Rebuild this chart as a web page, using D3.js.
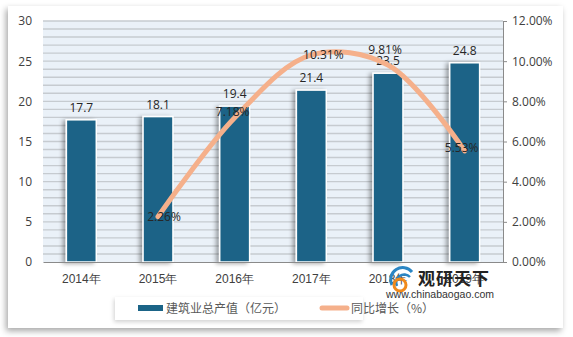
<!DOCTYPE html>
<html><head><meta charset="utf-8">
<script src="https://cdn.jsdelivr.net/npm/d3@7"></script>
<style>
html,body{margin:0;padding:0;background:#fff;}
svg{display:block;font-family:"Noto Sans CJK SC","DejaVu Sans",sans-serif;}
</style></head>
<body>
<svg id="c" width="573" height="337"></svg>
<script>
const categories = ["2014年","2015年","2016年","2017年","2018年","2019年"];
const outputValues = [17.7, 18.1, 19.4, 21.4, 23.5, 24.8];
const growthYears = ["2015年","2016年","2017年","2018年","2019年"];
const growthValues = [2.26, 7.18, 10.31, 9.81, 5.53];
const leftTicks = [0,5,10,15,20,25,30];
const rightTicks = [0,2,4,6,8,10,12];
const seriesNames = ["建筑业总产值（亿元）","同比增长（%）"];

const svg = d3.select("#c");
const defs = svg.append("defs");
const card = defs.append("filter").attr("id","cardShadow").attr("x","-5%").attr("y","-5%").attr("width","110%").attr("height","115%");
card.append("feDropShadow").attr("dx",-2).attr("dy",3).attr("stdDeviation",3).attr("flood-color","#000").attr("flood-opacity",0.35);
const bs = defs.append("filter").attr("id","barShadow").attr("x","-40%").attr("y","-10%").attr("width","160%").attr("height","120%");
bs.append("feDropShadow").attr("dx",-3).attr("dy",1).attr("stdDeviation",2).attr("flood-color","#000").attr("flood-opacity",0.35);
const ls = defs.append("filter").attr("id","legShadow").attr("x","-5%").attr("y","-20%").attr("width","110%").attr("height","150%");
ls.append("feDropShadow").attr("dx",-1).attr("dy",2).attr("stdDeviation",2).attr("flood-color","#000").attr("flood-opacity",0.18);

svg.append("rect").attr("x",8).attr("y",6).attr("width",555).attr("height",322).attr("fill","#fff").attr("filter","url(#cardShadow)");

const m = {l:43, r:503, t:21, b:262};
const x = d3.scaleBand().domain(categories).range([m.l,m.r]).paddingInner(0.61).paddingOuter(0.305);
const xc = d => x(d) + x.bandwidth()/2;
const yL = d3.scaleLinear().domain([0,30]).range([m.b,m.t]);
const yR = d3.scaleLinear().domain([0,12]).range([m.b,m.t]);

// plot background + gridlines
svg.append("rect").attr("x",m.l).attr("y",m.t).attr("width",m.r-m.l).attr("height",m.b-m.t).attr("fill","#eaf1f8");
svg.append("g").selectAll("line").data(d3.range(1,31)).join("line")
  .attr("x1",m.l).attr("x2",m.r).attr("y1",d=>yL(d)).attr("y2",d=>yL(d))
  .attr("stroke","#c6cbd0").attr("stroke-width",1.4);

// left axis
const gL = svg.append("g").attr("transform",`translate(${m.l},0)`)
  .call(d3.axisLeft(yL).tickValues(leftTicks).tickSize(0).tickPadding(11));
gL.select(".domain").remove();
gL.selectAll("text").attr("font-size",12).attr("fill","#404040").attr("font-family","'Open Sans','DejaVu Sans',sans-serif");

// right axis
const gR = svg.append("g").attr("transform",`translate(${m.r},0)`)
  .call(d3.axisRight(yR).tickValues(rightTicks).tickSize(4).tickPadding(5).tickFormat(d=>d.toFixed(2)+"%"));
gR.select(".domain").attr("stroke","#8a8a8a");
gR.selectAll("line").attr("stroke","#8a8a8a");
gR.selectAll("text").attr("font-size",12).attr("fill","#404040").attr("font-family","'Open Sans','DejaVu Sans',sans-serif");

// bars
svg.append("g").selectAll("rect").data(outputValues).join("rect")
  .attr("x",(d,i)=>x(categories[i])).attr("width",x.bandwidth())
  .attr("y",d=>yL(d)).attr("height",d=>m.b-yL(d))
  .attr("fill","#1b6487").attr("stroke","#fff").attr("stroke-width",1.5)
  .attr("filter","url(#barShadow)");

// bottom axis
const gB = svg.append("g").attr("transform",`translate(0,${m.b})`)
  .call(d3.axisBottom(x).tickSize(0).tickPadding(12));
gB.select(".domain").attr("stroke","#8a8a8a").attr("stroke-width",1.2);
gB.selectAll("text").attr("font-size",12).attr("fill","#404040");

// bar labels
svg.append("g").selectAll("text").data(outputValues).join("text")
  .attr("x",(d,i)=>xc(categories[i])).attr("y",d=>yL(d)-8)
  .attr("text-anchor","middle").attr("font-size",12).attr("fill","#262626")
  .attr("font-family","'Open Sans','DejaVu Sans',sans-serif")
  .text(d=>d);

// line
const line = d3.line().x((d,i)=>xc(growthYears[i])).y(d=>yR(d)).curve(d3.curveCatmullRom.alpha(0.5));
svg.append("path").datum(growthValues).attr("d",line)
  .attr("fill","none").attr("stroke","#f5b08b").attr("stroke-width",5).attr("stroke-linecap","round");

// line labels
const lblDx = [6,-2,12,-3,-3];
const lblDy = [0,-6,0,-15,-3];
svg.append("g").selectAll("text").data(growthValues).join("text")
  .attr("x",(d,i)=>xc(growthYears[i])+lblDx[i]).attr("y",(d,i)=>yR(d)+lblDy[i]+4.5)
  .attr("text-anchor","middle").attr("font-size",12).attr("fill","#262626")
  .attr("font-family","'Open Sans','DejaVu Sans',sans-serif")
  .text(d=>d.toFixed(2)+"%");

// legend
const lg = svg.append("g");
lg.append("rect").attr("x",115).attr("y",297).attr("width",248).attr("height",23).attr("fill","#fff").attr("filter","url(#legShadow)");
lg.append("rect").attr("x",138).attr("y",305).attr("width",25).attr("height",6).attr("fill","#1b6487");
lg.append("text").attr("x",166).attr("y",313).attr("font-size",12).attr("fill","#595959").text(seriesNames[0]);
lg.append("line").attr("x1",322).attr("x2",347).attr("y1",308).attr("y2",308).attr("stroke","#f5b08b").attr("stroke-width",5).attr("stroke-linecap","round");
lg.append("text").attr("x",351).attr("y",313).attr("font-size",12).attr("fill","#595959").text(seriesNames[1]);

// watermark
const wm = svg.append("g");
wm.append("path").attr("d","M392,285 A12,12 0 0 1 412,272").attr("fill","none").attr("stroke","#2a86c4").attr("stroke-width",3);
wm.append("path").attr("d","M397,286 A8,8 0 0 1 410,277").attr("fill","none").attr("stroke","#2a86c4").attr("stroke-width",2.5);
wm.append("circle").attr("cx",400).attr("cy",285).attr("r",6).attr("fill","none").attr("stroke","#f08a1c").attr("stroke-width",3);
wm.append("text").attr("x",418).attr("y",285).attr("font-size",17).attr("font-weight","bold").attr("fill","#222").attr("letter-spacing",1).text("观研天下");
wm.append("text").attr("x",386).attr("y",298).attr("font-size",10.5).attr("fill","#333").attr("font-family","'Liberation Sans',Arial,sans-serif").text("www.chinabaogao.com");
</script>
</body></html>
